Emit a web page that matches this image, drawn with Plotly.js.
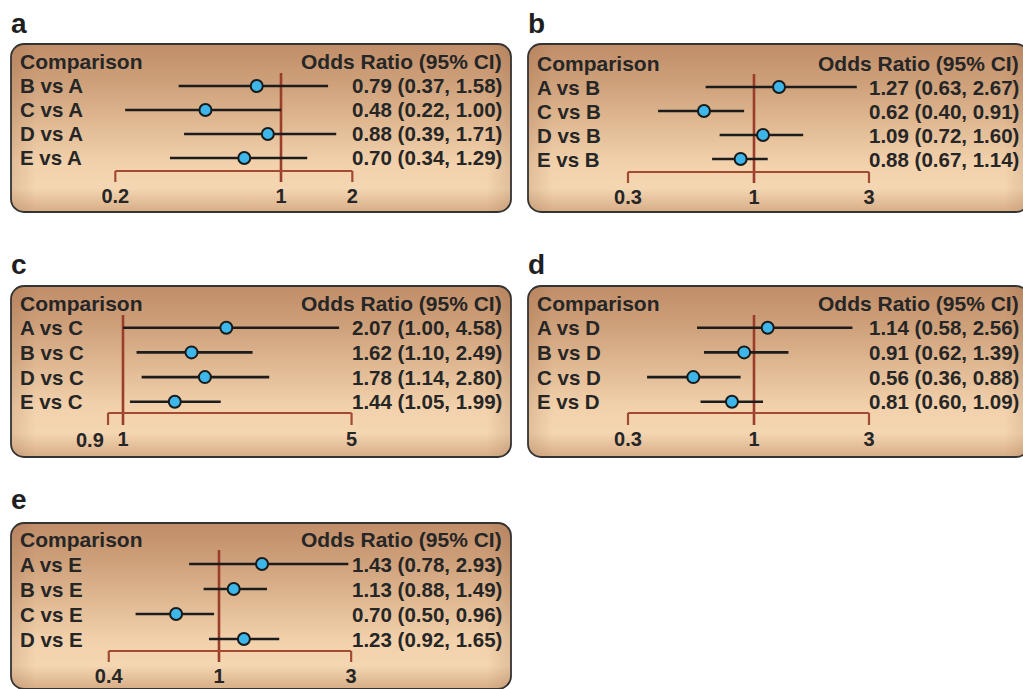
<!DOCTYPE html>
<html>
<head>
<meta charset="utf-8">
<script src="https://cdn.plot.ly/plotly-3.0.1.min.js"></script>
<style>html,body{margin:0;padding:0;background:#fff;}#chart{width:1023px;height:689px;}</style>
</head>
<body>
<div id="chart"></div>
<script>
// ---------- data ----------
const panelLetters = ['a', 'b', 'c', 'd', 'e'];
const headerLeft = 'Comparison';
const headerRight = 'Odds Ratio (95% CI)';

const comparisonsA = ['B vs A', 'C vs A', 'D vs A', 'E vs A'];
const oddsA = [0.79, 0.48, 0.88, 0.70];
const lowerA = [0.37, 0.22, 0.39, 0.34];
const upperA = [1.58, 1.00, 1.71, 1.29];
const ticksA = [0.2, 1, 2];

const comparisonsB = ['A vs B', 'C vs B', 'D vs B', 'E vs B'];
const oddsB = [1.27, 0.62, 1.09, 0.88];
const lowerB = [0.63, 0.40, 0.72, 0.67];
const upperB = [2.67, 0.91, 1.60, 1.14];
const ticksB = [0.3, 1, 3];

const comparisonsC = ['A vs C', 'B vs C', 'D vs C', 'E vs C'];
const oddsC = [2.07, 1.62, 1.78, 1.44];
const lowerC = [1.00, 1.10, 1.14, 1.05];
const upperC = [4.58, 2.49, 2.80, 1.99];
const ticksC = [0.9, 1, 5];

const comparisonsD = ['A vs D', 'B vs D', 'C vs D', 'E vs D'];
const oddsD = [1.14, 0.91, 0.56, 0.81];
const lowerD = [0.58, 0.62, 0.36, 0.60];
const upperD = [2.56, 1.39, 0.88, 1.09];
const ticksD = [0.3, 1, 3];

const comparisonsE = ['A vs E', 'B vs E', 'C vs E', 'D vs E'];
const oddsE = [1.43, 1.13, 0.70, 1.23];
const lowerE = [0.78, 0.88, 0.50, 0.92];
const upperE = [2.93, 1.49, 0.96, 1.65];
const ticksE = [0.4, 1, 3];

const nullValue = 1;

// ---------- geometry / style (pixels) ----------
const W = 1023, H = 689;
const px = x => x / W;
const py = y => 1 - y / H;

const panels = [
  {cmp: comparisonsA, or: oddsA, lo: lowerA, hi: upperA, ticks: ticksA, firstLabelLeft: false,
   L: 10, R: 512, T: 43, B: 213, head: 62, sp: 24, bottom: 182, bracket: 171, redTop: 73, one: 281, s: 237, letterY: 24},
  {cmp: comparisonsB, or: oddsB, lo: lowerB, hi: upperB, ticks: ticksB, firstLabelLeft: false,
   L: 527, R: 1030, T: 43, B: 213, head: 63, sp: 24, bottom: 183, bracket: 172, redTop: 74, one: 754, s: 241, letterY: 24},
  {cmp: comparisonsC, or: oddsC, lo: lowerC, hi: upperC, ticks: ticksC, firstLabelLeft: true,
   L: 10, R: 512, T: 285, B: 458, head: 303, sp: 24.7, bottom: 425, bracket: 413, redTop: 315, one: 123, s: 327, letterY: 264},
  {cmp: comparisonsD, or: oddsD, lo: lowerD, hi: upperD, ticks: ticksD, firstLabelLeft: false,
   L: 527, R: 1030, T: 285, B: 458, head: 303, sp: 24.7, bottom: 425, bracket: 413, redTop: 315, one: 754, s: 241, letterY: 264},
  {cmp: comparisonsE, or: oddsE, lo: lowerE, hi: upperE, ticks: ticksE, firstLabelLeft: false,
   L: 10, R: 512, T: 522, B: 690, head: 539, sp: 25, bottom: 662, bracket: 651, redTop: 550, one: 219, s: 277, letterY: 499}
];

const textColor = '#262626';
const redColor = '#9a3d2a';
const bracketColor = '#a34a33';
const fontFam = 'Arial, "Liberation Sans", sans-serif';

function panelSVG(w, h) {
  const svg = `<svg xmlns="http://www.w3.org/2000/svg" width="${w}" height="${h}" viewBox="0 0 ${w} ${h}">` +
    `<defs><linearGradient id="g" x1="0" y1="0" x2="0" y2="1">` +
    `<stop offset="0" stop-color="#c08d68"/><stop offset="0.25" stop-color="#cfa27c"/>` +
    `<stop offset="0.5" stop-color="#e2bc96"/><stop offset="0.72" stop-color="#f2d2ad"/>` +
    `<stop offset="0.86" stop-color="#f4d6b2"/><stop offset="1" stop-color="#d6ad87"/></linearGradient>` +
    `<linearGradient id="hz" x1="0" y1="0" x2="1" y2="0">` +
    `<stop offset="0" stop-color="#8a5533" stop-opacity="0.18"/><stop offset="0.05" stop-color="#8a5533" stop-opacity="0"/>` +
    `<stop offset="0.95" stop-color="#8a5533" stop-opacity="0"/><stop offset="1" stop-color="#8a5533" stop-opacity="0.18"/></linearGradient></defs>` +
    `<rect x="1" y="1" width="${w - 2}" height="${h - 2}" rx="13" ry="13" fill="url(#g)"/>` +
    `<rect x="1" y="1" width="${w - 2}" height="${h - 2}" rx="13" ry="13" fill="url(#hz)" stroke="#333333" stroke-width="1.8"/></svg>`;
  return 'data:image/svg+xml;charset=utf-8,' + encodeURIComponent(svg);
}

const traces = [];
const shapes = [];
const annotations = [];
const images = [];
const layout = {
  width: W, height: H,
  margin: {l: 0, r: 0, t: 0, b: 0},
  paper_bgcolor: '#ffffff',
  plot_bgcolor: 'rgba(0,0,0,0)',
  showlegend: false,
  hovermode: false,
  font: {family: fontFam, color: textColor}
};

panels.forEach((p, k) => {
  const n = k + 1;
  const xa = n === 1 ? 'x' : 'x' + n;
  const ya = n === 1 ? 'y' : 'y' + n;
  const xKey = n === 1 ? 'xaxis' : 'xaxis' + n;
  const yKey = n === 1 ? 'yaxis' : 'yaxis' + n;

  const d0 = p.L + 60, d1 = p.L + 400;
  const ybot = (p.bottom - p.head) / p.sp - 1;
  const yBracket = (p.bracket - p.head) / p.sp - 1;
  const yRedTop = (p.redTop - p.head) / p.sp - 1;
  const rows = p.cmp.map((_, i) => i);
  const axisTicks = p.firstLabelLeft ? p.ticks.slice(1) : p.ticks;
  const tickFont = {size: 20, family: fontFam, color: textColor, weight: 'bold'};

  layout[xKey] = {
    type: 'log',
    domain: [px(d0), px(d1)],
    range: [-(p.one - d0) / p.s, (d1 - p.one) / p.s],
    anchor: ya,
    showgrid: false, zeroline: false, showline: false, ticks: '',
    tickvals: axisTicks, ticktext: axisTicks.map(String), tickangle: 0,
    tickfont: tickFont,
    fixedrange: true
  };
  layout[yKey] = {
    domain: [py(p.bottom), py(p.head)],
    range: [ybot, -1],
    anchor: xa,
    showgrid: false, zeroline: false, showline: false, ticks: '', showticklabels: false,
    fixedrange: true
  };
  if (p.firstLabelLeft) {
    // first tick label sits to the left of its tick (as in the reference)
    annotations.push({xref: xa, yref: ya, x: Math.log10(p.ticks[0]), y: ybot, xshift: -2, yshift: -2,
      text: String(p.ticks[0]), showarrow: false, xanchor: 'right', yanchor: 'top', font: tickFont});
  }

  images.push({
    source: panelSVG(p.R - p.L, p.B - p.T),
    xref: 'paper', yref: 'paper',
    x: px(p.L), y: py(p.T),
    sizex: (p.R - p.L) / W, sizey: (p.B - p.T) / H,
    xanchor: 'left', yanchor: 'top', sizing: 'stretch', layer: 'below'
  });

  // reference line at OR = 1
  shapes.push({type: 'line', xref: xa, yref: ya, x0: nullValue, x1: nullValue, y0: yRedTop, y1: ybot,
    line: {color: redColor, width: 2.6}, layer: 'below'});
  // axis bracket
  const tmin = Math.min(...p.ticks), tmax = Math.max(...p.ticks);
  shapes.push({type: 'line', xref: xa, yref: ya, x0: tmin, x1: tmax, y0: yBracket, y1: yBracket,
    line: {color: bracketColor, width: 2.2}, layer: 'below'});
  shapes.push({type: 'line', xref: xa, yref: ya, x0: tmin, x1: tmin, y0: yBracket, y1: ybot,
    line: {color: bracketColor, width: 2.2}, layer: 'below'});
  shapes.push({type: 'line', xref: xa, yref: ya, x0: tmax, x1: tmax, y0: yBracket, y1: ybot,
    line: {color: bracketColor, width: 2.2}, layer: 'below'});

  traces.push({
    type: 'scatter', mode: 'markers',
    x: p.or, y: rows, xaxis: xa, yaxis: ya,
    cliponaxis: false,
    marker: {size: 12, color: '#3db6e9', line: {color: '#1a1a1a', width: 2}},
    error_x: {
      type: 'data', symmetric: false,
      array: p.hi.map((h, i) => h - p.or[i]),
      arrayminus: p.lo.map((l, i) => p.or[i] - l),
      width: 0, thickness: 2.6, color: '#1c1c1c'
    }
  });

  const tf = {size: 20.5, family: fontFam, color: textColor, weight: 'bold'};
  const hf = {size: 21, family: fontFam, color: textColor, weight: 'bold'};
  // panel letter
  annotations.push({xref: 'paper', yref: 'paper', x: px(p.L - 1), y: py(p.letterY), text: panelLetters[k],
    showarrow: false, xanchor: 'left', yanchor: 'middle', font: {size: 28, family: fontFam, color: '#1f1f1f', weight: 'bold'}});
  // headers
  annotations.push({xref: 'paper', yref: ya, x: px(p.L + 8), y: -1, text: headerLeft,
    showarrow: false, xanchor: 'left', yanchor: 'middle', font: hf});
  annotations.push({xref: 'paper', yref: ya, x: px(p.L + 494), y: -1, text: headerRight,
    showarrow: false, xanchor: 'right', yanchor: 'middle', font: hf});
  // rows
  p.cmp.forEach((c, i) => {
    annotations.push({xref: 'paper', yref: ya, x: px(p.L + 8), y: i, text: c,
      showarrow: false, xanchor: 'left', yanchor: 'middle', font: tf});
    annotations.push({xref: 'paper', yref: ya, x: px(p.L + 494), y: i,
      text: `${p.or[i].toFixed(2)} (${p.lo[i].toFixed(2)}, ${p.hi[i].toFixed(2)})`,
      showarrow: false, xanchor: 'right', yanchor: 'middle', font: tf});
  });
});

layout.shapes = shapes;
layout.annotations = annotations;
layout.images = images;

Plotly.newPlot('chart', traces, layout, {staticPlot: true, displayModeBar: false});
</script>
</body>
</html>
